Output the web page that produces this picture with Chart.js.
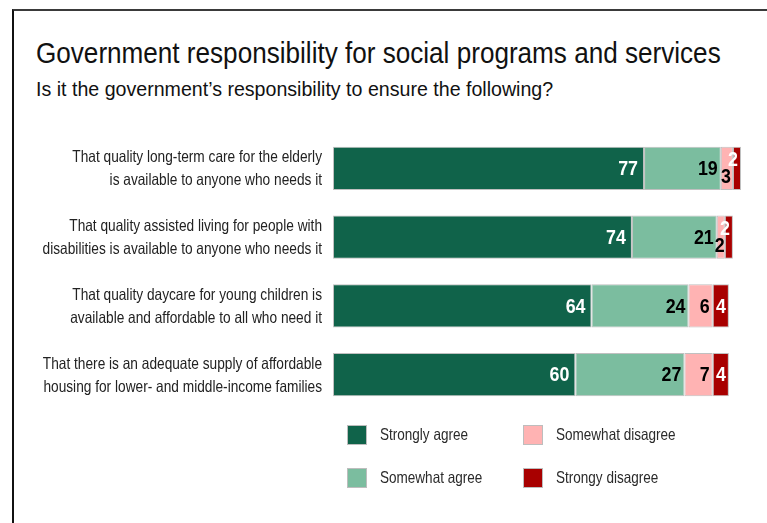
<!DOCTYPE html>
<html>
<head>
<meta charset="utf-8">
<script src="https://cdn.jsdelivr.net/npm/chart.js@4.4.1/dist/chart.umd.min.js"></script>
<style>
  html, body { margin: 0; padding: 0; background: #fff; }
  #wrap { position: relative; width: 767px; height: 523px; overflow: hidden; }
  #frame { position: absolute; left: 12px; top: 9px; width: 800px; height: 600px;
           border-top: 2px solid #3a3a3a; border-left: 2px solid #111; }
  #chartBox { position: absolute; left: 0; top: 0; width: 767px; height: 523px; }
  .head { position: absolute; left: 36px; white-space: nowrap; color: #111;
          font-family: "Liberation Sans", Arial, sans-serif; line-height: 1;
          transform-origin: left top; }
  #title { top: 39px; font-size: 29px; transform: scaleX(0.9); }
  #subtitle { top: 79px; font-size: 20px; transform: scaleX(0.98); }
  #legend { position: absolute; left: 347px; top: 425px; display: grid;
            grid-template-columns: 176px 176px; grid-template-rows: 43px 43px;
            grid-auto-flow: column; }
  .item { display: flex; align-items: flex-start; height: 43px; white-space: nowrap;
          font-family: "Liberation Sans", Arial, sans-serif;
          font-size: 16.5px; color: #2a2a2a; }
  .swatch { width: 20px; height: 20px; box-sizing: border-box; border: 1px solid #bdbdbd;
            margin-right: 13px; flex: none; }
  .item span { display: inline-block; line-height: 19px; transform: scaleX(0.82);
               transform-origin: left center; }
</style>
</head>
<body>
<div id="wrap">
  <div id="frame"></div>
  <div class="head" id="title">Government responsibility for social programs and services</div>
  <div class="head" id="subtitle">Is it the government’s responsibility to ensure the following?</div>
  <div id="chartBox"><canvas id="chart"></canvas></div>
  <div id="legend"></div>
</div>
<script>
// categorías (dos líneas cada una)
const categories = [
  ['That quality long-term care for the elderly', 'is available to anyone who needs it'],
  ['That quality assisted living for people with', 'disabilities is available to anyone who needs it'],
  ['That quality daycare for young children is', 'available and affordable to all who need it'],
  ['That there is an adequate supply of affordable', 'housing for lower- and middle-income families']
];

const seriesNames = ['Strongly agree', 'Somewhat agree', 'Somewhat disagree', 'Strongy disagree'];
const stronglyAgree = [77, 74, 64, 60];
const somewhatAgree = [19, 21, 24, 27];
const somewhatDisagree = [3, 2, 6, 7];
const stronglyDisagree = [2, 2, 4, 4];

const colors = ['#10634a', '#7bbd9f', '#ffb3b3', '#a80000'];
const labelColors = ['#ffffff', '#000000', '#000000', '#ffffff'];

const values = [stronglyAgree, somewhatAgree, somewhatDisagree, stronglyDisagree];

// texto estrecho (simula una fuente condensada)
function narrowText(ctx, txt, x, y, align, sx) {
  ctx.save();
  ctx.translate(x, y);
  ctx.scale(sx, 1);
  ctx.textAlign = align;
  ctx.fillText(txt, 0, 0);
  ctx.restore();
}

// etiquetas del eje y, dibujadas en las posiciones de la escala
const categoryLabels = {
  id: 'categoryLabels',
  afterDraw(chart) {
    const ctx = chart.ctx;
    const yScale = chart.scales.y;
    ctx.save();
    ctx.font = '16.5px "Liberation Sans", Arial, sans-serif';
    ctx.fillStyle = '#222';
    ctx.textBaseline = 'middle';
    yScale.ticks.forEach((t, i) => {
      const y = yScale.getPixelForTick(i);
      const lines = chart.data.labels[i];
      narrowText(ctx, lines[0], yScale.right - 11, y - 10.5, 'right', 0.83);
      narrowText(ctx, lines[1], yScale.right - 11, y + 12.5, 'right', 0.83);
    });
    ctx.restore();
  }
};

// etiquetas de valores dentro de cada segmento
const valueLabels = {
  id: 'valueLabels',
  afterDatasetsDraw(chart) {
    const ctx = chart.ctx;
    ctx.save();
    ctx.font = 'bold 21px "Liberation Sans", Arial, sans-serif';
    ctx.textBaseline = 'middle';
    chart.data.datasets.forEach((ds, di) => {
      const meta = chart.getDatasetMeta(di);
      meta.data.forEach((bar, i) => {
        const txt = String(ds.data[i]);
        const w = bar.x - bar.base;
        ctx.fillStyle = labelColors[di];
        if (w < 16) {
          // segmentos pequeños: etiquetas desplazadas arriba/abajo
          if (di === 2) {
            narrowText(ctx, txt, (bar.x + bar.base) / 2 - 1, bar.y + 9, 'center', 0.85);
          } else {
            narrowText(ctx, txt, bar.x - 3, bar.y - 8, 'right', 0.85);
          }
        } else {
          const pad = di === 0 ? 6 : 3;
          narrowText(ctx, txt, bar.x - pad, bar.y + 1, 'right', 0.85);
        }
      });
    });
    ctx.restore();
  }
};

const chart = new Chart(document.getElementById('chart'), {
  type: 'bar',
  data: {
    labels: categories,
    datasets: seriesNames.map((name, i) => ({
      label: name,
      data: values[i],
      backgroundColor: colors[i],
      borderColor: '#c0c0c0',
      borderWidth: 1,
      borderSkipped: false,
      barPercentage: 0.626,
      categoryPercentage: 1
    }))
  },
  options: {
    indexAxis: 'y',
    responsive: true,
    maintainAspectRatio: false,
    animation: false,
    layout: { padding: { top: 134, bottom: 114, right: 26, left: 0 } },
    scales: {
      x: { stacked: true, min: 0, max: 101, display: false },
      y: {
        stacked: true,
        grid: { display: false, drawTicks: false },
        border: { display: false },
        ticks: { display: false },
        afterFit(scale) { scale.width = 333; }
      }
    },
    plugins: {
      legend: { display: false },
      tooltip: { enabled: false }
    }
  },
  plugins: [valueLabels, categoryLabels]
});

// leyenda en HTML (por columnas)
const legend = document.getElementById('legend');
chart.data.datasets.forEach(ds => {
  const item = document.createElement('div');
  item.className = 'item';
  const sw = document.createElement('div');
  sw.className = 'swatch';
  sw.style.background = ds.backgroundColor;
  const sp = document.createElement('span');
  sp.textContent = ds.label;
  item.appendChild(sw);
  item.appendChild(sp);
  legend.appendChild(item);
});
</script>
</body>
</html>
